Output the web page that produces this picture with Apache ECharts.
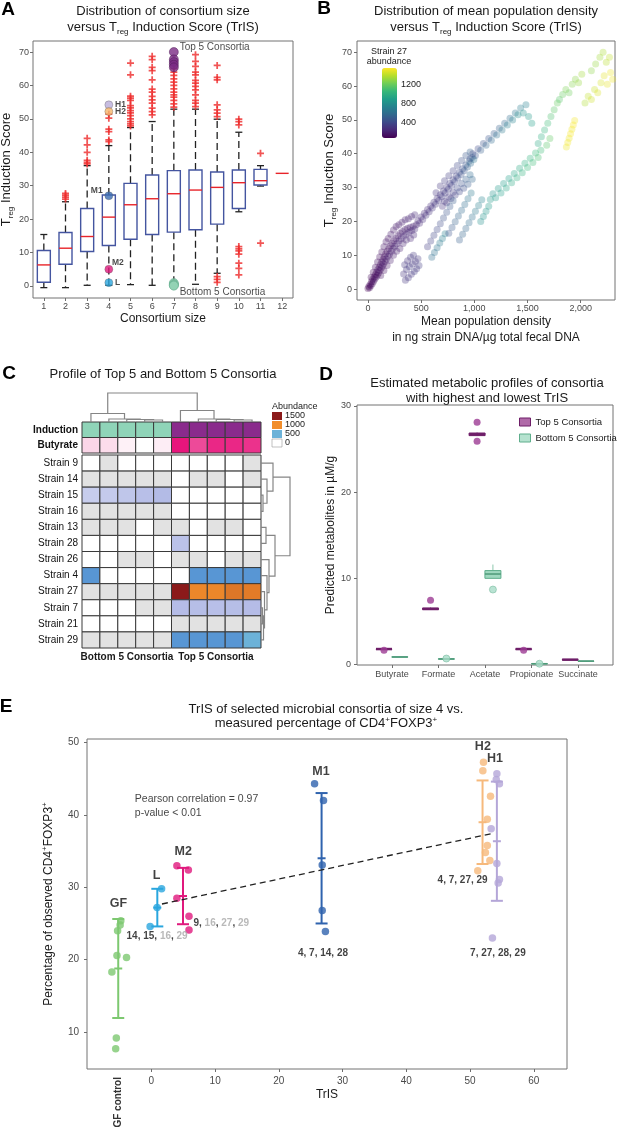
<!DOCTYPE html>
<html>
<head>
<meta charset="utf-8">
<title>TrIS of microbial consortia</title>
<script src="https://cdn.jsdelivr.net/npm/echarts@6.0.0/dist/echarts.min.js"></script>
<style>
  html, body { margin: 0; padding: 0; background: #fff; }
  #figure { width: 617px; height: 1129px; }
</style>
</head>
<body>
<div id="figure"></div>
<script>
// ---------------- A: consortium size vs TrIS ----------------
const sizeCats = ['1', '2', '3', '4', '5', '6', '7', '8', '9', '10', '11', '12'];
const boxLow  = [-0.5, -0.5, 0.2, 0.2, 0.4, 0.2, 0.2, 0.5, 3.8, 22.2, 29.9, 33.7];
const boxQ1   = [1.1, 6.5, 10.3, 12.1, 14.0, 15.4, 16.1, 16.8, 18.5, 23.2, 30.2, 33.7];
const boxMed  = [6.3, 11.3, 14.8, 20.6, 24.3, 26.1, 27.6, 28.7, 29.5, 30.9, 31.5, 33.7];
const boxQ3   = [10.6, 16.0, 23.2, 27.2, 30.7, 33.2, 34.5, 34.7, 34.1, 34.7, 34.9, 33.7];
const boxHigh = [15.4, 25.2, 36.0, 42.0, 47.4, 49.2, 52.9, 52.9, 49.9, 46.0, 36.0, 33.7];
const outliersBySize = [
  [],
  [26.0, 26.6, 27.2, 27.7],
  [36.5, 37.0, 37.6, 40.0, 42.2, 44.2],
  [43.2, 43.7, 46.2, 46.9, 50.2, 51.4],
  [47.9, 48.5, 49.2, 50.0, 51.0, 51.8, 52.5, 53.3, 54.0, 55.5, 56.2, 56.8, 63.2, 66.7],
  [51.2, 52.2, 53.2, 54.7, 55.7, 56.7, 58.0, 58.9, 61.7, 64.4, 65.4, 67.7, 68.7],
  [53.5, 54.5, 55.5, 56.5, 57.2, 58.0, 59.0, 60.0, 61.0, 62.0, 63.0, 64.0, 65.0, 66.0],
  [53.7, 54.7, 55.5, 57.2, 58.7, 59.7, 60.7, 61.5, 63.2, 64.0, 65.7, 67.2, 69.2],
  [1.1, 2.0, 2.8, 50.7, 51.7, 52.7, 54.2, 61.7, 62.4, 66.0],
  [3.3, 5.3, 6.8, 9.5, 10.5, 11.1, 11.8, 48.2, 49.2, 49.9],
  [12.8, 39.7],
  []
];
const top5Tris = [70.0, 67.8, 67.0, 66.2, 65.4];
const bottom5Tris = [0.9, 0.6, 0.4, 0.2, 0.1];
const pickedNames = ['H1', 'H2', 'M1', 'M2', 'L'];
const pickedTris = [54.2, 52.2, 27.0, 5.0, 1.0];

// ---------------- B: mean density vs TrIS (x, TrIS, strain 27 abundance) ----------------
const bandLow = [
  [0,0.2,70],[8,0.8,80],[15,0.4,90],[20,1.4,70],[28,1.0,100],[33,2.2,80],[40,1.6,110],[45,2.9,90],
  [52,2.3,120],[58,3.6,100],[64,2.9,130],[70,4.3,90],[76,3.5,140],[82,5.0,110],[88,4.1,120],[94,5.8,150],
  [100,4.8,100],[106,6.5,130],[112,5.5,160],[118,7.3,120],[124,6.2,140],[130,8.0,110],[136,6.8,170],
  [142,8.8,130],[148,7.5,150],[154,9.6,120],[160,8.2,180],[166,10.4,140],[172,8.9,160],[180,11.2,130],
  [188,9.7,190],[196,12.0,150],[204,10.4,170],[212,12.8,140],[220,11.2,200],[228,13.5,160],[236,12.0,180],
  [244,14.3,150],[252,12.7,210],[262,15.0,170],[272,13.4,190],[282,15.8,160],[292,14.2,220],[302,16.5,180],
  [312,14.9,200],[324,17.0,170],[336,15.6,230],[348,17.6,190],[360,16.2,210],[372,18.0,180],[386,16.8,240],
  [398,18.3,200],[412,17.3,220],[426,18.6,190],[440,17.8,250],[455,19.0,210]
];
const bandLowEdges = [
  [30,3.5,90],[50,5.0,100],[70,6.5,110],[90,8.0,120],[110,9.5,130],[130,11.0,140],[150,12.5,150],[170,14.0,160],
  [190,15.0,150],[215,16.2,170],[240,17.5,160],[265,18.5,180],[290,19.0,170],[320,19.8,190],[350,20.5,200],
  [380,20.8,210],[410,21.5,220],[440,22.0,240],[120,4.0,120],[150,5.5,140],[180,7.0,150],[210,8.5,170],
  [240,10.0,180],[270,11.2,190],[300,12.0,190],[330,13.5,200],[360,14.5,210],[400,15.0,220],[430,16.0,230]
];
const bandMid = [
  [470,20.2,230],[485,19.5,250],[500,21.3,240],[515,20.6,260],[530,22.4,230],[545,21.8,270],[560,23.5,250],
  [575,22.9,280],[590,24.6,260],[605,24.0,290],[620,25.7,270],[635,25.1,300],[650,26.8,280],[665,26.2,310],
  [680,27.9,290],[695,27.3,320],[710,29.0,300],[725,28.4,330],[740,30.1,310],[755,29.5,340],[770,31.2,320],
  [785,30.6,360],[800,32.3,340],[815,31.7,380],[830,33.4,360],[845,32.8,400],[860,34.5,390],[875,33.9,430],
  [890,35.6,420],[905,35.0,470],[920,36.7,460],[935,36.1,520],[950,37.8,510],[965,37.2,580],[980,38.9,560],
  [995,38.3,640],[720,26.0,290],[760,27.3,310],[800,28.6,330],[840,29.9,380],[880,31.2,430],[920,32.5,500],
  [960,33.8,580]
];
const bandMidEdges = [
  [640,28.5,290],[680,30.5,300],[720,32.0,320],[760,33.5,340],[800,35.0,360],[840,36.5,390],[880,38.0,430],
  [920,39.5,470],[960,40.5,520],[700,24.5,280],[740,25.5,300],[780,26.8,320],[820,27.8,350],[860,28.8,380],
  [900,29.8,420],[940,31.0,480],[980,32.5,560]
];
const lowerSpur = [
  [335,4.5,280],[345,7.2,300],[352,2.6,290],[362,5.8,310],[372,8.4,280],[380,3.4,300],[390,6.6,320],
  [400,9.4,300],[408,4.4,290],[418,7.4,310],[428,10.0,300],[436,5.2,320],[446,8.2,290],[458,6.0,310],
  [470,9.0,300],[480,7.0,320]
];
const streaks = [
  [560,12.5,330],[590,14.2,350],[620,15.9,370],[650,17.6,390],[680,19.3,410],[710,21.0,430],[740,22.7,450],
  [770,24.4,470],[800,26.1,490],[600,9.4,600],[625,10.8,620],[650,12.2,640],[675,13.6,660],[700,15.0,680],
  [725,16.4,700],[760,16.5,450],[790,18.2,480],[820,19.9,510],[850,21.6,540],[880,23.3,570],[910,25.0,600],
  [940,26.7,630],[970,28.4,660],[860,14.5,500],[890,16.2,530],[920,17.9,560],[950,19.6,590],[980,21.3,620],
  [1010,23.0,660],[1040,24.7,700],[1070,26.4,740],[1060,20.0,800],[1085,21.5,820],[1110,23.0,840],[1135,24.5,860]
];
const tealCloud = [
  [1150,26.5,850],[1175,28.2,820],[1200,27.0,880],[1225,29.7,860],[1250,28.4,900],[1275,31.2,870],
  [1300,29.9,930],[1325,32.7,900],[1350,31.4,960],[1375,34.2,930],[1400,32.9,990],[1425,35.7,960],
  [1450,34.4,1020],[1475,37.2,990],[1500,35.9,1050],[1525,38.7,1020],[1550,37.4,1080],[1575,40.2,1050],
  [1600,38.9,1100],[1625,41.0,1080]
];
const upperArm = [
  [960,38.5,420],[985,40.0,380],[1010,39.5,460],[1035,41.5,400],[1060,41.0,500],[1085,43.0,430],
  [1110,42.5,540],[1135,44.5,460],[1160,44.0,580],[1185,46.0,490],[1210,45.5,620],[1235,47.5,520],
  [1260,47.0,660],[1285,49.0,560],[1310,48.5,700],[1335,50.5,600],[1360,50.0,740],[1385,52.0,640],
  [1410,51.5,780],[1435,53.5,680],[1460,52.0,820],[1485,54.5,720],[1510,51.0,860],[1540,49.0,900]
];
const midGreen = [
  [1600,43.0,960],[1630,45.0,1000],[1660,47.0,1040],[1690,49.0,1080],[1720,51.0,1120],[1750,53.0,1160],
  [1780,55.0,1200],[1680,42.5,1150],[1710,44.5,1180]
];
const yellowStreak = [
  [1865,42.0,1520],[1878,43.3,1540],[1891,44.6,1520],[1904,45.9,1550],[1917,47.2,1530],[1930,48.5,1550],[1943,49.8,1540]
];
const topRight = [
  [1800,56.0,1150],[1830,57.5,1200],[1860,59.0,1250],[1890,58.0,1220],[1920,60.5,1280],[1950,62.0,1300],
  [1980,61.0,1320],[2010,63.5,1350],[2040,55.0,1380],[2070,57.0,1420],[2100,56.0,1450],[2130,59.0,1440],
  [2160,58.0,1480],[2190,61.0,1470],[2220,63.0,1500],[2250,60.5,1510],[2280,64.0,1520],[2300,62.0,1530],
  [2100,64.5,1300],[2140,66.5,1320],[2180,68.5,1350],[2210,70.0,1370],[2240,67.0,1400],[2270,68.5,1420]
];
const abundTicks = [400, 800, 1200];

// ---------------- C: heatmap of top/bottom consortia ----------------
const consortia = ['B1', 'B2', 'B3', 'B4', 'B5', 'T1', 'T2', 'T3', 'T4', 'T5'];
const annotRows = ['Induction', 'Butyrate'];
const inductionGroup = [0, 0, 0, 0, 0, 1, 1, 1, 1, 1];
const butyrateLevel = [0.35, 0.3, 0.12, 0, 0.15, 2.0, 1.55, 1.85, 1.85, 1.75];
const strainNames = ['Strain 9', 'Strain 14', 'Strain 15', 'Strain 16', 'Strain 13', 'Strain 28',
  'Strain 26', 'Strain 4', 'Strain 27', 'Strain 7', 'Strain 21', 'Strain 29'];
// 0 = not in consortium, -1 = in consortium but not detected
const strainAbund = [
  [0, -1, 0, 0, 0, 0, 0, 0, 0, -1],
  [-1, -1, -1, -1, -1, 0, -1, -1, 0, -1],
  [185, 195, 210, 235, 250, 0, 0, 0, 0, 0],
  [-1, -1, -1, -1, -1, 0, 0, 0, 0, 0],
  [-1, -1, -1, 0, -1, -1, 0, -1, -1, 0],
  [0, 0, 0, 0, 0, 225, 0, 0, 0, 0],
  [0, 0, -1, -1, 0, -1, -1, 0, -1, -1],
  [620, 0, 0, 0, 0, 0, 620, 620, 620, 620],
  [-1, -1, -1, -1, -1, 1500, 1030, 1030, 1100, 1080],
  [0, 0, 0, -1, -1, 245, 240, 235, 240, 245],
  [0, 0, 0, 0, 0, -1, -1, -1, -1, -1],
  [-1, -1, -1, -1, -1, 620, 620, 620, 620, 500]
];
const abundLegend = [1500, 1000, 500, 0];
// hclust-style merges: negative = leaf, positive = earlier merge; last item = height
const colTree = [[-4, -5, 2], [-3, 1, 2.5], [-2, 2, 3], [-1, 3, 8.5], [-9, -10, 2], [-8, 5, 2.5], [-7, 6, 3], [-6, 7, 11.5], [4, 8, 29]];
const rowTree = [[-3, -4, 2], [-2, 1, 6], [-1, 2, 12], [-5, -6, 5], [-10, -11, 1.5], [5, -12, 2.5], [-9, 6, 3.5], [-8, 7, 6], [-7, 8, 8], [4, 9, 14], [3, 10, 29]];

// ---------------- D: predicted metabolites ----------------
const metabolites = ['Butyrate', 'Formate', 'Acetate', 'Propionate', 'Succinate'];
const topLow  = [1.78, 6.35, 26.5, 1.78, 0.55];
const topQ1   = [1.79, 6.38, 26.55, 1.79, 0.56];
const topMed  = [1.8, 6.45, 26.7, 1.8, 0.57];
const topQ3   = [1.81, 6.55, 26.85, 1.81, 0.58];
const topHigh = [1.82, 6.6, 26.9, 1.82, 0.6];
const topOut  = [[1, 1.65], [2, 7.45], [3, 28.1], [3, 25.9], [4, 1.65]];
const botLow  = [0.85, 0.6, 10.0, 0.08, 0.38];
const botQ1   = [0.86, 0.62, 10.0, 0.09, 0.39];
const botMed  = [0.88, 0.65, 10.5, 0.1, 0.4];
const botQ3   = [0.9, 0.68, 10.9, 0.11, 0.41];
const botHigh = [0.92, 0.7, 11.6, 0.12, 0.42];
const botOut  = [[2, 0.7], [3, 8.7], [4, 0.1]];

// ---------------- E: TrIS vs measured CD4+FOXP3+ ----------------
const eGroups = ['GF', 'L', 'M2', 'M1', 'H2', 'H1'];
const eBarX = [-5.2, 0.93, 4.96, 26.7, 51.95, 54.2];
const gfPts = [[-4.8, 25.4], [-4.9, 24.8], [-5.3, 24.0], [-5.4, 20.6], [-3.9, 20.3], [-6.2, 18.3], [-5.5, 9.2], [-5.6, 7.7]];
const lPts  = [[1.6, 29.8], [0.9, 27.2], [-0.2, 24.6]];
const m2Pts = [[4.0, 33.0], [5.8, 32.4], [4.0, 28.5], [5.9, 26.0], [5.9, 24.1]];
const m1Pts = [[25.6, 44.3], [27.0, 42.0], [26.8, 33.1], [26.8, 26.8], [27.3, 23.9]];
const h2Pts = [[52.1, 47.3], [52.0, 46.1], [53.2, 42.6], [52.7, 39.4], [52.7, 35.8], [52.4, 34.8], [53.1, 33.7], [51.2, 32.3]];
const h1Pts = [[54.2, 45.7], [54.1, 44.9], [54.6, 44.3], [53.3, 38.1], [54.2, 33.3], [54.6, 31.1], [54.4, 30.6], [53.5, 23.0]];
const trendX = [1.66, 53.8];
const trendY = [27.7, 37.5];
const strainTags = ['14, 15, {g|16}, {g|29}', '9, {g|16}, {g|27}, {g|29}', '4, 7, 14, 28', '4, 7, 27, 29', '7, 27, 28, 29'];

// ---------------- styles ----------------
const FONT = '"Liberation Sans", Arial, Helvetica, sans-serif';
const INK = '#1a1a1a';
const pickedColors = ['#b9acd9', '#f5b56c', '#3b6db3', '#e0197d', '#2aa6de'];
const eColors = ['#7dc870', '#2aa6de', '#e0197d', '#2f63ae', '#f6b97c', '#b4a6d8'];
const viridis = ['#440154', '#482878', '#3e4989', '#31688e', '#26828e', '#1f9e89', '#35b779', '#6ece58', '#b5de2b', '#fde725'];
const abundStops = [[0, '#ffffff'], [250, '#b3bbe6'], [500, '#6cb2d8'], [620, '#5896d4'], [1000, '#f28e2b'], [1500, '#8b1a1a']];

function hexRgb(c) { const n = parseInt(c.slice(1), 16); return [(n >> 16) & 255, (n >> 8) & 255, n & 255]; }
function mixHex(a, b, t) {
  const A = hexRgb(a), B = hexRgb(b);
  return 'rgb(' + A.map((v, i) => Math.round(v + (B[i] - v) * t)).join(',') + ')';
}
function abundColor(v) {
  if (v < 0) return '#e2e2e2';
  if (v <= 0) return '#ffffff';
  for (let i = 1; i < abundStops.length; i++) {
    if (v <= abundStops[i][0]) {
      const [v0, c0] = abundStops[i - 1], [v1, c1] = abundStops[i];
      return mixHex(c0, c1, (v - v0) / (v1 - v0));
    }
  }
  return abundStops[abundStops.length - 1][1];
}
function meanSd(pts) {
  const ys = pts.map(p => p[1]);
  const m = ys.reduce((a, b) => a + b, 0) / ys.length;
  const sd = Math.sqrt(ys.reduce((a, b) => a + (b - m) * (b - m), 0) / (ys.length - 1));
  return [m, sd];
}
function treeLines(merges, leafPos, swap) {
  const pos = [], ht = [], out = [];
  const get = id => id < 0 ? [leafPos(-id - 1), 0] : [pos[id - 1], ht[id - 1]];
  merges.forEach(([a, b, h], i) => {
    const [pa, ha] = get(a), [pb, hb] = get(b);
    const pts = [[pa, ha], [pa, h], [pb, h], [pb, hb]];
    out.push({ coords: swap ? pts.map(p => [p[1], p[0]]) : pts });
    pos[i] = (pa + pb) / 2; ht[i] = h;
  });
  return out;
}

// box drawn from [x, low, q1, median, q3, high]
function boxRenderer(cfg) {
  return function (params, api) {
    const x = api.value(0);
    const lo = api.coord([x, api.value(1)]), q1 = api.coord([x, api.value(2)]);
    const md = api.coord([x, api.value(3)]), q3 = api.coord([x, api.value(4)]);
    const hi = api.coord([x, api.value(5)]);
    const cx = md[0], hw = cfg.width / 2, kids = [];
    const flat = api.value(2) === api.value(4) && api.value(1) === api.value(5);
    if (!flat) {
      const ws = { stroke: cfg.whisker, lineWidth: cfg.whiskerWidth, lineDash: cfg.dash || null };
      kids.push({ type: 'line', shape: { x1: cx, y1: q3[1], x2: cx, y2: hi[1] }, style: ws });
      kids.push({ type: 'line', shape: { x1: cx, y1: q1[1], x2: cx, y2: lo[1] }, style: ws });
      if (cfg.cap) {
        const cs = { stroke: cfg.whisker, lineWidth: cfg.whiskerWidth };
        kids.push({ type: 'line', shape: { x1: cx - cfg.cap / 2, y1: hi[1], x2: cx + cfg.cap / 2, y2: hi[1] }, style: cs });
        kids.push({ type: 'line', shape: { x1: cx - cfg.cap / 2, y1: lo[1], x2: cx + cfg.cap / 2, y2: lo[1] }, style: cs });
      }
      kids.push({ type: 'rect', shape: { x: cx - hw, y: q3[1], width: cfg.width, height: Math.max(q1[1] - q3[1], 0.3) },
        style: { fill: cfg.fill, stroke: cfg.stroke, lineWidth: cfg.lineWidth } });
    }
    kids.push({ type: 'line', shape: { x1: cx - hw, y1: md[1], x2: cx + hw, y2: md[1] },
      style: { stroke: cfg.median, lineWidth: cfg.medWidth } });
    return { type: 'group', children: kids };
  };
}

function cellRenderer(colorOf) {
  return function (params, api) {
    const c = api.coord([api.value(0), api.value(1)]);
    const s = api.size([1, 1]);
    return { type: 'rect', shape: { x: c[0] - s[0] / 2, y: c[1] - s[1] / 2, width: s[0], height: s[1] },
      style: { fill: colorOf(api.value(1), api.value(2)), stroke: '#3a3a3a', lineWidth: 1 } };
  };
}

function errRender(params, api) {
  const x = api.value(0);
  const lo = api.coord([x, api.value(1)]), hi = api.coord([x, api.value(2)]), mn = api.coord([x, api.value(3)]);
  const s = { stroke: eColors[api.value(4)], lineWidth: 2 };
  return { type: 'group', children: [
    { type: 'line', shape: { x1: lo[0], y1: lo[1], x2: hi[0], y2: hi[1] }, style: s },
    { type: 'line', shape: { x1: lo[0] - 6, y1: lo[1], x2: lo[0] + 6, y2: lo[1] }, style: s },
    { type: 'line', shape: { x1: hi[0] - 6, y1: hi[1], x2: hi[0] + 6, y2: hi[1] }, style: s },
    { type: 'line', shape: { x1: mn[0] - 4, y1: mn[1], x2: mn[0] + 4, y2: mn[1] }, style: s }
  ] };
}

const TICK = { show: true, length: 3, lineStyle: { color: '#6e6e6e', width: 1 } };
const LBL = { fontSize: 9, color: '#4a4a4a', fontFamily: FONT };
const SUB = { s: { fontSize: 8, lineHeight: 8, verticalAlign: 'bottom', fontFamily: FONT, color: INK, fill: INK } };
const SUP = { p: { fontSize: 8, lineHeight: 8, verticalAlign: 'top', fontFamily: FONT, color: INK, fill: INK } };

function vAxis(o) {
  return {
    type: 'value', gridIndex: o.grid, min: o.min, max: o.max, inverse: !!o.inverse, show: o.show !== false,
    position: o.position,
    name: o.name || '', nameLocation: 'middle', nameGap: o.nameGap || 0,
    nameTextStyle: Object.assign({ fontSize: 12, color: INK, fontFamily: FONT }, o.nameStyle || {}),
    axisLine: { show: false, onZero: false },
    axisTick: o.ticks ? Object.assign({}, TICK, { customValues: o.ticks }) : { show: false },
    axisLabel: o.ticks ? Object.assign({}, LBL, { customValues: o.ticks, margin: o.margin || 4 }, o.label || {}) : { show: false },
    splitLine: { show: false }
  };
}
function gridBox(left, top, width, height, border) {
  return { left, top, width, height, show: !!border, borderColor: '#737373', borderWidth: 1,
    backgroundColor: 'transparent', containLabel: false, outerBoundsMode: 'none' };
}

// ---------------- data for series ----------------
const aBoxes = sizeCats.map((c, i) => [i, boxLow[i], boxQ1[i], boxMed[i], boxQ3[i], boxHigh[i]]);
const aOutliers = [];
outliersBySize.forEach((vals, i) => vals.forEach(v => aOutliers.push([i, v])));
const bPoints = [].concat(bandLow, bandLowEdges, bandMid, bandMidEdges, lowerSpur, streaks, tealCloud,
  upperArm, midGreen, yellowStreak, topRight);

const annotCells = [];
consortia.forEach((c, j) => {
  annotCells.push([j, 0, inductionGroup[j]]);
  annotCells.push([j, 1, butyrateLevel[j]]);
});
const strainCells = [];
strainAbund.forEach((row, i) => row.forEach((v, j) => strainCells.push([j, i, v])));

const dTop = metabolites.map((m, i) => [i + 1 - 0.17, topLow[i], topQ1[i], topMed[i], topQ3[i], topHigh[i]]);
const dBot = metabolites.map((m, i) => [i + 1 + 0.17, botLow[i], botQ1[i], botMed[i], botQ3[i], botHigh[i]]);

const eGroupPts = [gfPts, lPts, m2Pts, m1Pts, h2Pts, h1Pts];
const eBars = eGroupPts.map((pts, g) => { const [m, sd] = meanSd(pts); return [eBarX[g], m - sd, m + sd, m, g]; });
const ePoints = [];
eGroupPts.forEach((pts, g) => pts.forEach(p => ePoints.push([p[0], p[1], g])));

// label anchors (data units) for panel E
const eTagAnchors = [[-5.15, 27.7], [0.83, 31.7], [5.0, 34.9], [26.6, 46.0], [52.0, 49.4], [53.9, 47.8]];
const strainTagAnchors = [[-3.9, 23.3], [6.6, 25.1], [23.0, 20.9], [44.9, 31.05], [50.0, 20.9]];

function T(x, y, text, o) {
  return { type: 'text', x, y, silent: true,
    style: Object.assign({ text, fontFamily: FONT, fontSize: 13, fill: INK, align: 'center', verticalAlign: 'middle' }, o || {}) };
}
const letter = { fontSize: 19, fontWeight: 'bold', fill: '#000' };

const graphics = [
  T(8, 10, 'A', letter),
  T(163, 11, 'Distribution of consortium size'),
  T(163, 27, 'versus T{s|reg} Induction Score (TrIS)', { rich: SUB, lineHeight: 18 }),
  T(324, 9, 'B', letter),
  T(486, 11.5, 'Distribution of mean population density'),
  T(486, 27, 'versus T{s|reg} Induction Score (TrIS)', { rich: SUB, lineHeight: 18 }),
  T(389, 52, 'Strain 27', { fontSize: 9 }),
  T(389, 62, 'abundance', { fontSize: 9 }),
  T(9, 374, 'C', letter),
  T(163, 374, 'Profile of Top 5 and Bottom 5 Consortia'),
  T(272, 407, 'Abundance', { fontSize: 9, align: 'left' }),
  T(127, 657, 'Bottom 5 Consortia', { fontSize: 10, fontWeight: 'bold' }),
  T(216, 657, 'Top 5 Consortia', { fontSize: 10, fontWeight: 'bold' }),
  T(326, 375, 'D', letter),
  T(487, 383, 'Estimated metabolic profiles of consortia'),
  T(487, 398, 'with highest and lowest TrIS'),
  T(6, 707, 'E', letter),
  T(326, 709, 'TrIS of selected microbial consortia of size 4 vs.'),
  T(326, 723.5, 'measured percentage of CD4{p|+}FOXP3{p|+}', { rich: SUP, lineHeight: 16 })
];
// colour bar tick labels (Strain 27 abundance scale 60..1560 over 70 px)
abundTicks.forEach(v => graphics.push(T(401, 138 - (v - 60) / 1500 * 70, String(v), { fontSize: 9, align: 'left' })));
// heatmap abundance legend keys
abundLegend.forEach((v, i) => {
  const y = 412 + i * 9;
  graphics.push({ type: 'rect', silent: true, shape: { x: 272, y, width: 10, height: 8 },
    style: { fill: abundColor(v), stroke: v === 0 ? '#999' : null, lineWidth: 0.6 } });
  graphics.push(T(285, y + 4, String(v), { fontSize: 9, align: 'left' }));
});

const chart = echarts.init(document.getElementById('figure'));
chart.setOption({
  animation: false,
  textStyle: { fontFamily: FONT },
  grid: [
    gridBox(33, 41, 260, 257, true),     // A
    gridBox(357, 41, 258, 259, true),    // B
    gridBox(82, 422, 179, 31, false),    // C annotation rows
    gridBox(82, 455, 179, 193, false),   // C strains
    gridBox(82, 392, 179, 30, false),    // C column dendrogram
    gridBox(261, 455, 30, 193, false),   // C row dendrogram
    gridBox(357, 405, 256, 260, true),   // D
    gridBox(87, 739, 480, 330, true)     // E
  ],
  xAxis: [
    { type: 'category', gridIndex: 0, data: sizeCats, axisLine: { show: false, onZero: false },
      axisTick: Object.assign({}, TICK, { alignWithLabel: true }), axisLabel: Object.assign({}, LBL, { margin: 4 }),
      name: 'Consortium size', nameLocation: 'middle', nameGap: 15,
      nameTextStyle: { fontSize: 12, color: INK, fontFamily: FONT } },
    vAxis({ grid: 1, min: -103, max: 2322, ticks: [0, 500, 1000, 1500, 2000], margin: 4, nameGap: 13,
      name: 'Mean population density\nin ng strain DNA/\u00b5g total fecal DNA', nameStyle: { lineHeight: 16 } }),
    { type: 'category', gridIndex: 2, data: consortia, show: false },
    { type: 'category', gridIndex: 3, data: consortia, show: false },
    vAxis({ grid: 4, min: 0, max: 10, show: false }),
    vAxis({ grid: 5, min: 0, max: 30, show: false }),
    vAxis({ grid: 6, min: 0.25, max: 5.75, ticks: [1, 2, 3, 4, 5], margin: 5,
      label: { formatter: v => metabolites[Math.round(v) - 1] } }),
    vAxis({ grid: 7, min: -10.1, max: 65.2, ticks: [0, 10, 20, 30, 40, 50, 60], margin: 7,
      name: 'TrIS', nameGap: 20, label: { fontSize: 10 } }),
    { type: 'value', gridIndex: 7, min: -10.1, max: 65.2, position: 'bottom', axisLine: { show: false, onZero: false },
      axisTick: { show: false }, splitLine: { show: false },
      axisLabel: { customValues: [eBarX[0]], formatter: () => 'GF control', rotate: 90, margin: 8,
        fontSize: 10, fontWeight: 'bold', color: '#333', fontFamily: FONT } }
  ],
  yAxis: [
    vAxis({ grid: 0, min: -3.6, max: 73.3, ticks: [0, 10, 20, 30, 40, 50, 60, 70], margin: 4,
      name: 'T{s|reg} Induction Score', nameGap: 13, nameStyle: { fontSize: 13, lineHeight: 18, rich: SUB } }),
    vAxis({ grid: 1, min: -3.2, max: 73.3, ticks: [0, 10, 20, 30, 40, 50, 60, 70], margin: 5,
      name: 'T{s|reg} Induction Score', nameGap: 16, nameStyle: { fontSize: 13, lineHeight: 18, rich: SUB } }),
    { type: 'category', gridIndex: 2, data: annotRows, inverse: true, axisLine: { show: false }, axisTick: { show: false },
      axisLabel: { fontSize: 10, fontWeight: 'bold', color: '#111', margin: 4, fontFamily: FONT } },
    { type: 'category', gridIndex: 3, data: strainNames, inverse: true, axisLine: { show: false }, axisTick: { show: false },
      axisLabel: { fontSize: 10, color: '#111', margin: 4, fontFamily: FONT } },
    vAxis({ grid: 4, min: 0, max: 30, show: false }),
    vAxis({ grid: 5, min: -0.5, max: 11.5, inverse: true, show: false }),
    vAxis({ grid: 6, min: -0.05, max: 30.1, ticks: [0, 10, 20, 30], margin: 6,
      name: 'Predicted metabolites in \u00b5M/g', nameGap: 17 }),
    vAxis({ grid: 7, min: 4.9, max: 50.5, ticks: [10, 20, 30, 40, 50], margin: 8, label: { fontSize: 10 },
      name: 'Percentage of observed CD4{p|+}FOXP3{p|+}', nameGap: 26, nameStyle: { lineHeight: 16, rich: SUP } })
  ],
  visualMap: [{
    type: 'continuous', seriesIndex: 3, dimension: 2, min: 60, max: 1560, inRange: { color: viridis },
    left: 382, top: 68, itemWidth: 15, itemHeight: 70, padding: 0, calculable: false, hoverLink: false,
    text: null, showLabel: false
  }],
  legend: {
    left: 514, top: 412, orient: 'vertical', itemWidth: 11, itemHeight: 8, itemGap: 6, selectedMode: false,
    textStyle: { fontSize: 9.5, color: INK, fontFamily: FONT },
    data: [
      { name: 'Top 5 Consortia', icon: 'rect', itemStyle: { color: '#b06aa8', borderColor: '#6e1e68', borderWidth: 1 } },
      { name: 'Bottom 5 Consortia', icon: 'rect', itemStyle: { color: '#b5e2cf', borderColor: '#5fae8c', borderWidth: 1 } }
    ]
  },
  graphic: graphics,
  series: [
    // 0 A boxes
    { type: 'custom', xAxisIndex: 0, yAxisIndex: 0, data: aBoxes, encode: { x: 0, y: [1, 2, 3, 4, 5] }, silent: true,
      renderItem: boxRenderer({ width: 13, fill: '#ffffff', stroke: '#4455a0', lineWidth: 1.4, median: '#e8242a',
        medWidth: 1.4, whisker: '#222', whiskerWidth: 1.3, dash: [7, 4], cap: 7 }) },
    // 1 A outliers
    { type: 'scatter', xAxisIndex: 0, yAxisIndex: 0, data: aOutliers, silent: true,
      symbol: 'path://M3,0H5V3H8V5H5V8H3V5H0V3H3Z', symbolSize: 7, itemStyle: { color: '#ee2a2a' } },
    // 2 A highlighted consortia
    { type: 'scatter', xAxisIndex: 0, yAxisIndex: 0, silent: true, symbolSize: 9,
      data: [].concat(
        top5Tris.map((v, i) => ({ value: [6, v], itemStyle: { color: '#7a2c84', borderColor: '#4d1a55', borderWidth: 0.6 },
          label: i === 0 ? { show: true, formatter: 'Top 5 Consortia', position: 'right', distance: 1, offset: [0, -5],
            fontSize: 10, color: INK, fontFamily: FONT } : { show: false } })),
        bottom5Tris.map((v, i) => ({ value: [6, v], itemStyle: { color: '#93d3b5', borderColor: '#5fa88a', borderWidth: 0.6 },
          label: i === 4 ? { show: true, formatter: 'Bottom 5 Consortia', position: 'right', distance: 1, offset: [0, 7],
            fontSize: 10, color: INK, fontFamily: FONT } : { show: false } })),
        pickedNames.map((n, i) => ({ value: [3, pickedTris[i]], symbolSize: 8,
          itemStyle: { color: pickedColors[i], borderColor: '#555', borderWidth: 0.4 },
          label: { show: true, formatter: n, fontSize: 8.5, fontWeight: 'bold', color: INK, fontFamily: FONT,
            position: n === 'M1' ? 'left' : 'right', distance: 2,
            offset: n === 'M1' ? [0, -5] : (n === 'M2' ? [-3, -7] : [0, 0]) } }))
      ) },
    // 3 B scatter
    { type: 'scatter', xAxisIndex: 1, yAxisIndex: 1, data: bPoints, symbolSize: 7, silent: true,
      itemStyle: { opacity: 0.32 } },
    // 4 C annotation rows
    { type: 'custom', xAxisIndex: 2, yAxisIndex: 2, data: annotCells, silent: true,
      renderItem: cellRenderer((row, v) => row === 0 ? (v ? '#8a2b8c' : '#8fd4b8') : mixHex('#ffffff', '#e8157c', v / 2)) },
    // 5 C strain heatmap
    { type: 'custom', xAxisIndex: 3, yAxisIndex: 3, data: strainCells, silent: true,
      renderItem: cellRenderer((row, v) => abundColor(v)) },
    // 6 C column dendrogram
    { type: 'lines', coordinateSystem: 'cartesian2d', xAxisIndex: 4, yAxisIndex: 4, polyline: true, silent: true,
      lineStyle: { color: '#858585', width: 1.2, opacity: 1 }, data: treeLines(colTree, k => k + 0.5, false) },
    // 7 C row dendrogram
    { type: 'lines', coordinateSystem: 'cartesian2d', xAxisIndex: 5, yAxisIndex: 5, polyline: true, silent: true,
      lineStyle: { color: '#858585', width: 1.2, opacity: 1 }, data: treeLines(rowTree, k => k, true) },
    // 8 D top 5 boxes
    { type: 'custom', name: 'Top 5 Consortia', xAxisIndex: 6, yAxisIndex: 6, data: dTop, encode: { x: 0, y: [1, 2, 3, 4, 5] },
      silent: true, itemStyle: { color: '#b06aa8' },
      renderItem: boxRenderer({ width: 16, fill: '#b06aa8', stroke: '#6e1e68', lineWidth: 1, median: '#6e1e68',
        medWidth: 2.5, whisker: '#6e1e68', whiskerWidth: 1, cap: 0 }) },
    // 9 D bottom 5 boxes
    { type: 'custom', name: 'Bottom 5 Consortia', xAxisIndex: 6, yAxisIndex: 6, data: dBot, encode: { x: 0, y: [1, 2, 3, 4, 5] },
      silent: true, itemStyle: { color: '#b5e2cf' },
      renderItem: boxRenderer({ width: 16, fill: '#9fd8bf', stroke: '#5fae8c', lineWidth: 1, median: '#4e9a79',
        medWidth: 1.5, whisker: '#8cc7ad', whiskerWidth: 1, cap: 0 }) },
    // 10 D top outliers
    { type: 'scatter', name: 'top-out', xAxisIndex: 6, yAxisIndex: 6, silent: true, symbolSize: 7,
      data: topOut.map(p => [p[0] - 0.17, p[1]]), itemStyle: { color: '#9c3b94' } },
    // 11 D bottom outliers
    { type: 'scatter', name: 'bottom-out', xAxisIndex: 6, yAxisIndex: 6, silent: true, symbolSize: 7,
      data: botOut.map(p => [p[0] + 0.17, p[1]]), itemStyle: { color: '#a8dcc8', borderColor: '#7fbfa3', borderWidth: 0.8 } },
    // 12 E error bars
    { type: 'custom', xAxisIndex: 7, yAxisIndex: 7, data: eBars, encode: { x: 0, y: [1, 2, 3] }, silent: true,
      renderItem: errRender },
    // 13 E trend line
    { type: 'line', xAxisIndex: 7, yAxisIndex: 7, data: trendX.map((x, i) => [x, trendY[i]]), symbol: 'none', silent: true,
      lineStyle: { color: '#222', width: 1.3, type: [6, 4] } },
    // 14 E points
    { type: 'scatter', xAxisIndex: 7, yAxisIndex: 7, data: ePoints, symbolSize: 7.5, silent: true,
      itemStyle: { color: p => eColors[p.value[2]] } },
    // 15 E labels
    { type: 'scatter', xAxisIndex: 7, yAxisIndex: 7, symbolSize: 0, silent: true,
      data: [].concat(
        eGroups.map((g, i) => ({ value: eTagAnchors[i], label: { show: true, formatter: g, position: 'inside',
          fontSize: 12.5, fontWeight: 'bold', color: '#111', fontFamily: FONT } })),
        strainTags.map((t, i) => ({ value: strainTagAnchors[i], label: { show: true, formatter: t, position: 'right',
          distance: 0, fontSize: 10, fontWeight: 'bold', color: '#111', fontFamily: FONT,
          rich: { g: { fontSize: 10, fontWeight: 'bold', color: '#a8a8a8', fontFamily: FONT } } } })),
        [{ value: [-2.6, 41.2], label: { show: true, formatter: 'Pearson correlation = 0.97\np-value < 0.01',
          position: 'right', distance: 0, align: 'left', fontSize: 10.5, lineHeight: 14, color: '#111', fontFamily: FONT } }]
      ) }
  ]
});
</script>
</body>
</html>
